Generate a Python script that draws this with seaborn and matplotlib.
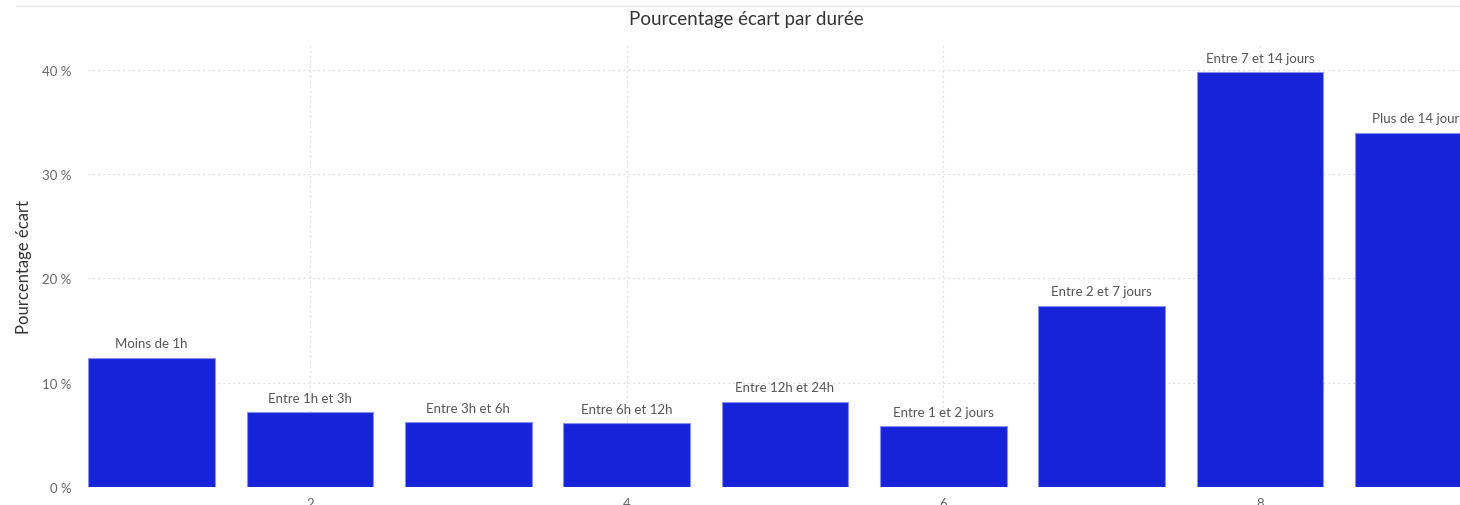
import matplotlib
matplotlib.use("Agg")
import matplotlib.pyplot as plt
import seaborn as sns
import pandas as pd
from matplotlib.lines import Line2D

positions = [1, 2, 3, 4, 5, 6, 7, 8, 9]
categories = ["Moins de 1h", "Entre 1h et 3h", "Entre 3h et 6h", "Entre 6h et 12h",
              "Entre 12h et 24h", "Entre 1 et 2 jours", "Entre 2 et 7 jours",
              "Entre 7 et 14 jours", "Plus de 14 jours"]
values = [12.4, 7.2, 6.2, 6.1, 8.2, 5.85, 17.4, 39.8, 34.0]
y_ticks = [0, 10, 20, 30, 40]
y_tick_labels = ["0 %", "10 %", "20 %", "30 %", "40 %"]
x_ticks = [2, 4, 6, 8]

sns.set_style("white")
plt.rcParams["font.family"] = ["Lato", "DejaVu Sans"]

df = pd.DataFrame({"pos": positions, "val": values, "cat": categories})

fig = plt.figure(figsize=(14.6, 5.06), dpi=100)
ax = fig.add_axes([88 / 1460, 18 / 506, 1 - 88 / 1460, (488 - 47) / 506])

sns.barplot(data=df, x="pos", y="val", native_scale=True, color="#1623D9",
            saturation=1, width=0.8, edgecolor="#8A90EE", linewidth=0.8, ax=ax, zorder=3)

ax.set_xlim(0.598, 9.263)
ax.set_ylim(0, 42.3)
ax.set_xticks(x_ticks)
ax.set_xticklabels([str(t) for t in x_ticks])
ax.set_yticks(y_ticks)
ax.set_yticklabels(y_tick_labels)
ax.tick_params(axis="both", length=0, colors="#666666", labelsize=9.5)
ax.tick_params(axis="y", pad=12)
ax.tick_params(axis="x", pad=7)
ax.grid(True, axis="both", linestyle=(0, (1, 3)), color="#D0D0D0", linewidth=0.9, zorder=0)
ax.set_axisbelow(True)
for s in ax.spines.values():
    s.set_visible(False)

ax.bar_label(ax.containers[0], labels=categories, padding=6, fontsize=9.5, color="#555555")

ax.set_xlabel("")
ax.set_ylabel("Pourcentage écart", fontsize=12, color="#333333")
ax.yaxis.set_label_coords(-0.041, 0.5)
fig.text(746 / 1460, 1 - 20 / 506, "Pourcentage écart par durée", ha="center", va="center",
         fontsize=13.5, color="#333333")

fig.add_artist(Line2D([16 / 1460, 1], [1 - 7 / 506, 1 - 7 / 506], color="#E6E6E6", linewidth=1))

fig.savefig("out.png", dpi=100)
